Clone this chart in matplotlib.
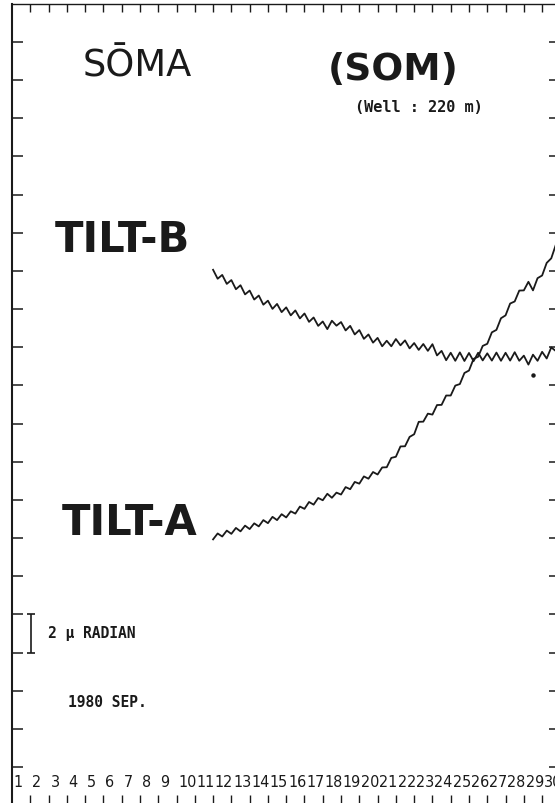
import numpy as np
import matplotlib
matplotlib.use("Agg")
import matplotlib.pyplot as plt

# time axis: days of September 1980, samples every 6 hours
t_start = 12.0
t_step = 0.25

# tilt values in micro-radian
tilt_b = [26.06, 25.59, 25.79, 25.32, 25.52, 25.04, 25.25, 24.77, 24.97, 24.50,
          24.71, 24.23, 24.44, 24.01, 24.27, 23.84, 24.09, 23.67, 23.93, 23.51,
          23.77, 23.33, 23.56, 23.12, 23.35, 22.95, 23.39, 23.13, 23.32, 22.88,
          23.12, 22.67, 22.90, 22.44, 22.67, 22.24, 22.49, 22.05, 22.34, 22.05,
          22.43, 22.10, 22.36, 21.94, 22.22, 21.86, 22.17, 21.81, 22.16, 21.57,
          21.81, 21.32, 21.71, 21.29, 21.73, 21.28, 21.70, 21.27, 21.71, 21.31,
          21.68, 21.30, 21.72, 21.29, 21.71, 21.30, 21.74, 21.29, 21.56, 21.09,
          21.61, 21.29, 21.76, 21.41, 21.99, 21.80]

tilt_a = [11.93, 12.24, 12.08, 12.39, 12.22, 12.53, 12.35, 12.65, 12.47, 12.77,
          12.61, 12.94, 12.78, 13.11, 12.94, 13.25, 13.08, 13.40, 13.28, 13.65,
          13.53, 13.89, 13.75, 14.10, 13.98, 14.32, 14.11, 14.38, 14.28, 14.67,
          14.56, 14.94, 14.85, 15.23, 15.11, 15.46, 15.33, 15.70, 15.71, 16.20,
          16.26, 16.80, 16.81, 17.30, 17.44, 18.09, 18.10, 18.52, 18.47, 18.97,
          18.98, 19.47, 19.47, 19.99, 20.07, 20.65, 20.78, 21.39, 21.50, 22.07,
          22.18, 22.78, 22.91, 23.52, 23.67, 24.29, 24.40, 24.97, 24.98, 25.43,
          24.98, 25.62, 25.76, 26.42, 26.66, 27.37]

days = list(range(1, 31))
speck_t = [29.5]
speck_v = [20.55]

t = t_start + t_step * np.arange(len(tilt_b))

fig = plt.figure(figsize=(5.55, 8.04), dpi=100)
ax = fig.add_axes([12 / 555, 0.0, 548.4 / 555, (804 - 4.8) / 804])
ax.set_xlim(1, 31)
ax.set_ylim(-1.887, 40)

ink = "#1a1a1a"
ax.plot(t, tilt_b, color=ink, lw=1.3, solid_joinstyle="round")
ax.plot(t, tilt_a, color=ink, lw=1.3, solid_joinstyle="round")
ax.plot(speck_t, speck_v, "o", color=ink, ms=2.2)

# frame and ticks
for side in ("left", "top", "right"):
    ax.spines[side].set_color(ink)
ax.spines["left"].set_linewidth(1.5)
ax.spines["top"].set_linewidth(1.0)
ax.spines["right"].set_linewidth(1.0)
ax.spines["bottom"].set_visible(False)

ax.set_xticks(range(2, 31))
ax.set_yticks(range(0, 40, 2))
ax.tick_params(axis="y", which="both", direction="in", left=True, right=True,
               labelleft=False, length=8, width=1.1, color=ink)
ax.tick_params(axis="x", which="both", direction="in", top=True, bottom=True,
               labelbottom=False, length=6, width=1.0, color=ink)

# day numbers along the bottom
for d in days:
    ax.text(d + 0.1, -0.78, str(d), ha="left", va="center", fontsize=11.5,
            family="DejaVu Sans", stretch="condensed", color=ink)

# titles and labels
ax.text(4.88, 36.8, "SŌMA", fontsize=26.5, ha="left", va="center", color=ink)
ax.text(18.29, 36.6, "(SOM)", fontsize=27, fontweight="bold", ha="left",
        va="center", color=ink)
ax.text(19.76, 34.6, "(Well : 220 m)", fontsize=11, family="DejaVu Sans Mono",
        fontweight="bold", ha="left", va="center", color=ink)
ax.text(3.35, 27.67, "TILT-B", fontsize=30, fontweight="bold", ha="left",
        va="center", color=ink)
ax.text(3.74, 12.84, "TILT-A", fontsize=30, fontweight="bold", ha="left",
        va="center", color=ink)

# 2 micro-radian scale bar
ax.errorbar([2.04], [7.0], yerr=[1.0], fmt="none", ecolor=ink, elinewidth=1.2,
            capsize=3, capthick=1.2)
ax.text(2.97, 7.07, "2 μ RADIAN", fontsize=10.5, family="DejaVu Sans Mono",
        fontweight="bold", ha="left", va="center", color=ink)
ax.text(4.06, 3.41, "1980 SEP.", fontsize=10.5, family="DejaVu Sans Mono",
        fontweight="bold", ha="left", va="center", color=ink)

fig.savefig("out.png", dpi=100)
